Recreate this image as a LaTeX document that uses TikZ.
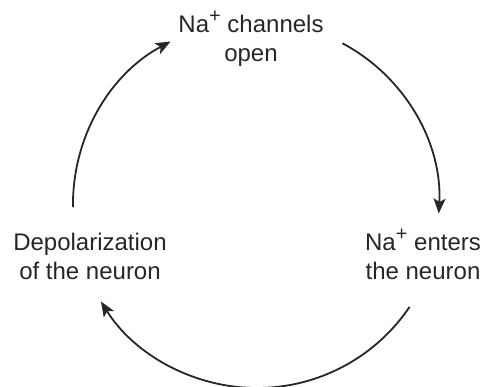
\documentclass[tikz,border=0pt]{standalone}
\usepackage{fontspec}
\setmainfont{Liberation Sans}
\usetikzlibrary{arrows.meta}
\newcommand{\plussup}{\raisebox{0.42em}{\fontsize{20}{20}\selectfont +}}
\begin{document}
\begin{tikzpicture}[x=1pt,y=1pt,
  lbl/.style={align=center,inner sep=0pt,anchor=base,font=\fontsize{24}{29.5}\selectfont,text=black!85},
  cyc/.style={line width=1.8pt,draw=black!85,-{Stealth[length=15pt,width=12pt,inset=3.5pt]}}]
\useasboundingbox (0,0) rectangle (486,387);
\node[lbl] (top) at (251,325) {Na\plussup{} channels\\open};
\node[lbl] (right) at (423,107) {Na\plussup{} enters\\the neuron};
\node[lbl] (left) at (90,107) {Depolarization\\of the neuron};
\coordinate (c) at (257,183);
\path (c) ++(62:182) coordinate (r1);
\path (c) ++(-34:184) coordinate (b1);
\path (c) ++(181:184) coordinate (l1);
\draw[cyc] (r1) arc[start angle=62,end angle=-3,radius=182];
\draw[cyc] (b1) arc[start angle=-34,end angle=-148,radius=184];
\draw[cyc] (l1) arc[start angle=181,end angle=118,radius=184];
\end{tikzpicture}
\end{document}
